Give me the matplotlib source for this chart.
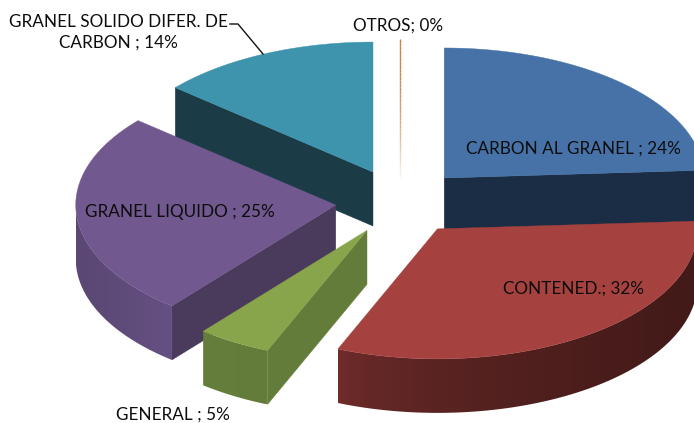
import numpy as np
import matplotlib
matplotlib.use("Agg")
import matplotlib.pyplot as plt
from matplotlib.collections import LineCollection
from matplotlib.colors import to_rgb
from matplotlib.patches import Polygon

plt.rcParams['font.family'] = ['Lato', 'DejaVu Sans']

# slices, clockwise from 12 o'clock. values
categories = ["CARBON AL GRANEL", "CONTENED.", "GENERAL", "GRANEL LIQUIDO",
              "GRANEL SOLIDO DIFER. DE CARBON", "OTROS"]
percents = [24.05, 32.2, 4.6, 25.4, 13.75, 0]
top_colors = ["#4672a8", "#a5423f", "#88a54b", "#71588f", "#3f94ad", "#c87d3e"]
cut_colors = ["#1b2d45", "#421a18", "#647c39", "#4a3a5b", "#1b3c47", "#c87d3e"]
rim_left = ["#1b2d45", "#722d2c", "#667e3b", "#5a4772", "#1b3c47", "#c87d3e"]
rim_right = ["#1b2d45", "#421a18", "#647c39", "#655083", "#1b3c47", "#c87d3e"]
rim_power = [1, 0.55, 1, 1, 1, 1]

# pie shape in pixels
cx, cy = 400, 202
rx, ry = 260, 130
explode_x, explode_y = 64.5, 33
depth = 54


def rim_xy(t, ox, oy):
    return ox + rx * np.sin(t), oy - ry * np.cos(t)


def blend(c1, c2, f):
    return tuple((1 - f) * a + f * b for a, b in zip(to_rgb(c1), to_rgb(c2)))


fig = plt.figure(figsize=(6.94, 4.23), dpi=100)
ax = fig.add_axes([0, 0, 1, 1])
ax.axis("off")

# work out the start/end angle of each slice from the values
ends = np.cumsum(percents) / 100 * 2 * np.pi
starts = np.concatenate([[0], ends[:-1]])

# back to front so nearer slices cover the walls behind them
draw_order = [4, 3, 0, 5, 2, 1]
z = 1
for i in draw_order:
    t0, t1 = starts[i], ends[i]
    mid = (t0 + t1) / 2
    ox = cx + explode_x * np.sin(mid)
    oy = cy - explode_y * np.cos(mid)
    z += 1

    if percents[i] == 0:
        # zero slice only shows as a thin fading line
        ys = np.linspace(oy - ry, oy + 14, 40)
        x0 = ox + rx * np.sin(t0)
        segs = [[(x0, a), (x0, b)] for a, b in zip(ys[:-1], ys[1:])]
        fade = np.linspace(0, 1, len(segs)) ** 2
        cols = [blend(top_colors[i], "#ffffff", f) for f in fade]
        ax.add_collection(LineCollection(segs, colors=cols, linewidths=1.0, zorder=z))
        continue

    # flat cut walls that face the viewer
    for t, visible in ((t1, t1 < np.pi), (t0, t0 > np.pi)):
        if visible:
            ex, ey = rim_xy(t, ox, oy)
            ax.fill([ox, ex, ex, ox], [oy, ey, ey + depth, oy + depth],
                    color=cut_colors[i], lw=0.3, zorder=z)

    # curved outer wall, only the front half of the ellipse
    a0, a1 = max(t0, np.pi / 2), min(t1, 3 * np.pi / 2)
    if a1 > a0:
        ts = np.linspace(a0, a1, 120)
        xs, ys = rim_xy(ts, ox, oy)
        outline = np.c_[np.r_[xs, xs[::-1]], np.r_[ys, ys[::-1] + depth]]
        f = np.linspace(0, 1, 256) ** rim_power[i]
        grad = np.array([[blend(rim_left[i], rim_right[i], v) for v in f]])
        im = ax.imshow(grad, extent=[xs.min(), xs.max(), ys.max() + depth, ys.min()],
                       aspect="auto", interpolation="bilinear", zorder=z)
        clip = Polygon(outline, closed=True, transform=ax.transData)
        im.set_clip_path(clip)

    # top face
    ts = np.linspace(t0, t1, 120)
    xs, ys = rim_xy(ts, ox, oy)
    ax.fill(np.r_[ox, xs], np.r_[oy, ys], color=top_colors[i], lw=0.3, zorder=z)

ax.set_xlim(0, 694)
ax.set_ylim(423, 0)

# data labels
label_size = 12.3
txt = "#0d0d0d"
ax.text(398, 26, f"{categories[5]}; {percents[5]:.0f}%", fontsize=label_size, color=txt,
        ha="center", va="center", zorder=20)
ax.text(118, 32.5, f"GRANEL SOLIDO DIFER. DE\nCARBON ; {percents[4]:.0f}%", fontsize=label_size, color=txt,
        ha="center", va="center", linespacing=1.38, zorder=20)
ax.text(573, 149, f"{categories[0]} ; {percents[0]:.0f}%", fontsize=label_size, color=txt,
        ha="center", va="center", zorder=20)
ax.text(180, 212, f"{categories[3]} ; {percents[3]:.0f}%", fontsize=label_size, color=txt,
        ha="center", va="center", zorder=20)
ax.text(574, 289, f"{categories[1]}; {percents[1]:.0f}%", fontsize=label_size, color=txt,
        ha="center", va="center", zorder=20)
ax.text(173, 415, f"{categories[2]} ; {percents[2]:.0f}%", fontsize=label_size, color=txt,
        ha="center", va="center", zorder=20)

# leader line for the solid bulk label
ax.plot([230, 238, 263], [24, 24, 54], color="#111111", lw=1.0, zorder=20)

fig.savefig("out.png", dpi=100)
